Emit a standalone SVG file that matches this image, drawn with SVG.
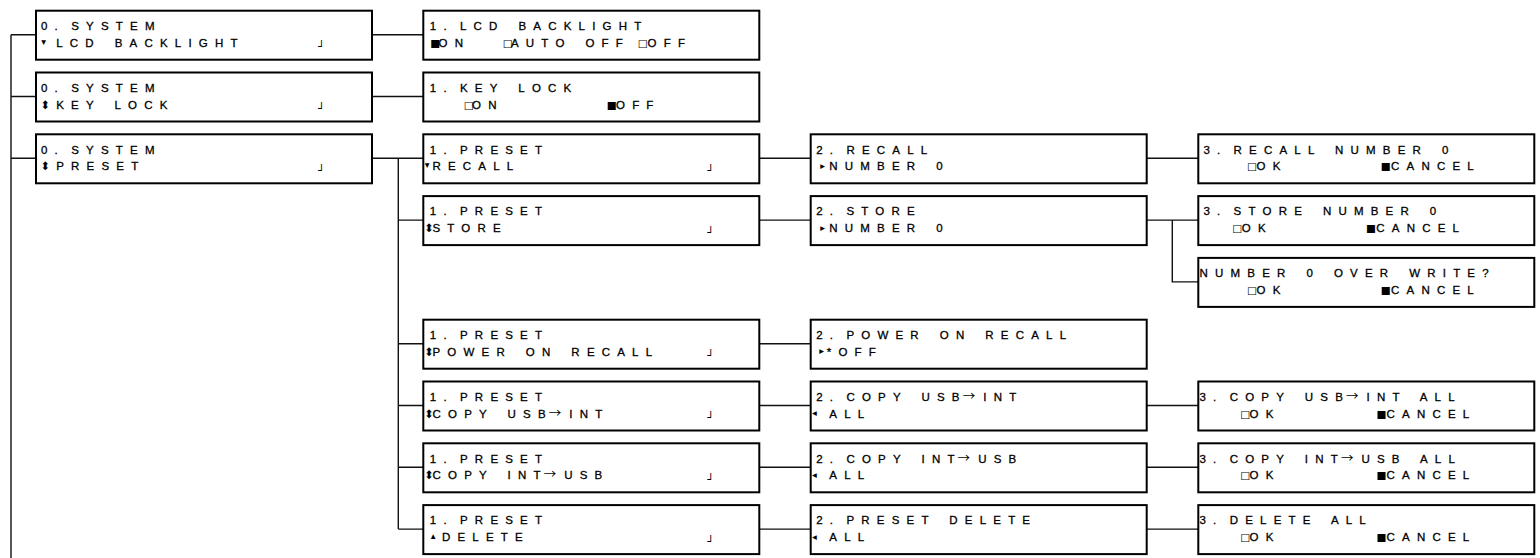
<svg xmlns="http://www.w3.org/2000/svg" width="1540" height="558" viewBox="0 0 1540 558">
<style>
.box{fill:#fff;stroke:#000;stroke-width:2}
.t{font-family:"Liberation Sans",Arial,sans-serif;font-size:11.5px;letter-spacing:7.2px;word-spacing:3.5px;fill:#000;stroke:#000;stroke-width:0.3px}
.g{word-spacing:-4.2px}
.k{letter-spacing:3.2px}
.r{font-family:"Noto Sans CJK JP","DejaVu Sans",sans-serif;font-size:12.5px;letter-spacing:8px;stroke-width:0}
.s{font-family:"DejaVu Sans",sans-serif;font-size:10.5px;letter-spacing:0;word-spacing:0;stroke-width:0}
.a{font-family:"DejaVu Sans",sans-serif;font-size:9.5px;letter-spacing:0;word-spacing:0;stroke-width:0}
.u{font-family:"DejaVu Sans",sans-serif;font-size:11.5px;letter-spacing:0;word-spacing:0;stroke-width:0}
.e{font-family:"DejaVu Sans Mono",monospace;font-size:11px;letter-spacing:0;word-spacing:0;stroke-width:0}
#connectors path{stroke:#111;stroke-width:1.4;fill:none}
</style>
<rect width="1540" height="558" fill="#fff"/>
<g id="connectors">
<path d="M11,34.7V558M11,34.7H36M11,96.5H36M11,158.3H36"/>
<path d="M372,34.7H423.3M372,96.5H423.3M372,158.3H423.3"/>
<path d="M398.3,158.3V529.1M398.3,220.1H423.3M398.3,343.7H423.3M398.3,405.5H423.3M398.3,467.3H423.3M398.3,529.1H423.3"/>
<path d="M759,158.3H810.7M759,220.1H810.7M759,343.7H810.7M759,405.5H810.7M759,467.3H810.7M759,529.1H810.7"/>
<path d="M1146,158.3H1198.3M1146,220.1H1198.3M1172.3,220.1V281.9H1198.3M1146,405.5H1198.3M1146,467.3H1198.3M1146,529.1H1198.3"/>
</g>
<g id="sys-lcd" transform="translate(36,10.7)"><rect class="box" width="336" height="49"/>
<text class="t" x="5" y="19.3">0.<tspan class="g"> </tspan>SYSTEM</text>
<text class="t" y="36.2"><tspan class="a" x="5.2" y="34">▾</tspan><tspan x="20.2" y="36.2">LCD BACKLIGHT</tspan><tspan class="e" x="282" y="39.5">┘</tspan></text></g>
<g id="sys-keylock" transform="translate(36,72.5)"><rect class="box" width="336" height="49"/>
<text class="t" x="5" y="19.3">0.<tspan class="g"> </tspan>SYSTEM</text>
<text class="t" y="36.2"><tspan class="u" x="4.5">⬍</tspan><tspan x="20.2">KEY LOCK</tspan><tspan class="e" x="282" y="39.5">┘</tspan></text></g>
<g id="sys-preset" transform="translate(36,134.3)"><rect class="box" width="336" height="49"/>
<text class="t" x="5" y="19.3">0.<tspan class="g"> </tspan>SYSTEM</text>
<text class="t" y="36.2"><tspan class="u" x="4.5">⬍</tspan><tspan x="20.2">PRESET</tspan><tspan class="e" x="282" y="39.5">┘</tspan></text></g>
<g id="lcd-backlight" transform="translate(423.3,10.7)"><rect class="box" width="336" height="49"/>
<text class="t" x="6.5" y="19.3">1.<tspan class="g"> </tspan>LCD BACKLIGHT</text>
<text class="t" y="36.2"><tspan class="s" x="7">■</tspan><tspan x="15.3">ON</tspan> <tspan class="s" x="79.5">□</tspan><tspan x="87.7">AUTO OFF</tspan> <tspan class="s" x="214.5">□</tspan><tspan x="224.3">OFF</tspan></text></g>
<g id="key-lock" transform="translate(423.3,72.5)"><rect class="box" width="336" height="49"/>
<text class="t" x="6.5" y="19.3">1.<tspan class="g"> </tspan>KEY LOCK</text>
<text class="t" y="36.2"><tspan class="s" x="40.5">□</tspan><tspan x="48.7">ON</tspan> <tspan class="s" x="183.5">■</tspan><tspan x="192.7">OFF</tspan></text></g>
<g id="preset-recall" transform="translate(423.3,134.3)"><rect class="box" width="336" height="49"/>
<text class="t" x="6.5" y="19.3">1.<tspan class="g"> </tspan>PRESET</text>
<text class="t" y="36.2"><tspan class="a" x="1.5" y="34">▾</tspan><tspan x="9.2" y="36.2">RECALL</tspan><tspan class="e" x="284" y="39.5">┘</tspan></text></g>
<g id="preset-store" transform="translate(423.3,196.1)"><rect class="box" width="336" height="49"/>
<text class="t" x="6.5" y="19.3">1.<tspan class="g"> </tspan>PRESET</text>
<text class="t" y="36.2"><tspan class="u" x="1">⬍</tspan><tspan x="9.2">STORE</tspan><tspan class="e" x="284" y="39.5">┘</tspan></text></g>
<g id="preset-poweron" transform="translate(423.3,319.7)"><rect class="box" width="336" height="49"/>
<text class="t" x="6.5" y="19.3">1.<tspan class="g"> </tspan>PRESET</text>
<text class="t" y="36.2"><tspan class="u" x="1">⬍</tspan><tspan x="9.2">POWER ON RECALL</tspan><tspan class="e" x="284" y="39.5">┘</tspan></text></g>
<g id="preset-copy-usb-int" transform="translate(423.3,381.5)"><rect class="box" width="336" height="49"/>
<text class="t" x="6.5" y="19.3">1.<tspan class="g"> </tspan>PRESET</text>
<text class="t" y="36.2"><tspan class="u" x="1">⬍</tspan><tspan x="9.2">COPY US</tspan><tspan class="k">B</tspan><tspan class="r">→</tspan>INT<tspan class="e" x="284" y="39.5">┘</tspan></text></g>
<g id="preset-copy-int-usb" transform="translate(423.3,443.3)"><rect class="box" width="336" height="49"/>
<text class="t" x="6.5" y="19.3">1.<tspan class="g"> </tspan>PRESET</text>
<text class="t" y="36.2"><tspan class="u" x="1">⬍</tspan><tspan x="9.2">COPY IN</tspan><tspan class="k">T</tspan><tspan class="r">→</tspan>USB<tspan class="e" x="284" y="39.5">┘</tspan></text></g>
<g id="preset-delete" transform="translate(423.3,505.1)"><rect class="box" width="336" height="49"/>
<text class="t" x="6.5" y="19.3">1.<tspan class="g"> </tspan>PRESET</text>
<text class="t" y="36.2"><tspan class="a" x="7.5" y="34">▴</tspan><tspan x="18.7" y="36.2">DELETE</tspan><tspan class="e" x="284" y="39.5">┘</tspan></text></g>
<g id="recall" transform="translate(810.7,134.3)"><rect class="box" width="336" height="49"/>
<text class="t" x="5.5" y="19.3">2.<tspan class="g"> </tspan>RECALL</text>
<text class="t" y="36.2"><tspan class="a" x="9.5" y="34.5">▸</tspan><tspan x="18.6" y="36.2">NUMBER 0</tspan></text></g>
<g id="store" transform="translate(810.7,196.1)"><rect class="box" width="336" height="49"/>
<text class="t" x="5.5" y="19.3">2.<tspan class="g"> </tspan>STORE</text>
<text class="t" y="36.2"><tspan class="a" x="9.5" y="34.5">▸</tspan><tspan x="18.6" y="36.2">NUMBER 0</tspan></text></g>
<g id="power-on-recall" transform="translate(810.7,319.7)"><rect class="box" width="336" height="49"/>
<text class="t" x="5.5" y="19.3">2.<tspan class="g"> </tspan>POWER ON RECALL</text>
<text class="t" y="36.2"><tspan class="a" x="8.5" y="34.5">▸</tspan><tspan x="16" y="36.2">*OFF</tspan></text></g>
<g id="copy-usb-int" transform="translate(810.7,381.5)"><rect class="box" width="336" height="49"/>
<text class="t" x="5.5" y="19.3">2.<tspan class="g"> </tspan>COPY US<tspan class="k">B</tspan><tspan class="r">→</tspan>INT</text>
<text class="t" y="36.2"><tspan class="a" x="1.2" y="34.5">◂ </tspan><tspan x="18.6" y="36.2">ALL</tspan></text></g>
<g id="copy-int-usb" transform="translate(810.7,443.3)"><rect class="box" width="336" height="49"/>
<text class="t" x="5.5" y="19.3">2.<tspan class="g"> </tspan>COPY IN<tspan class="k">T</tspan><tspan class="r">→</tspan>USB</text>
<text class="t" y="36.2"><tspan class="a" x="1.2" y="34.5">◂ </tspan><tspan x="18.6" y="36.2">ALL</tspan></text></g>
<g id="preset-delete-2" transform="translate(810.7,505.1)"><rect class="box" width="336" height="49"/>
<text class="t" x="5.5" y="19.3">2.<tspan class="g"> </tspan>PRESET DELETE</text>
<text class="t" y="36.2"><tspan class="a" x="1.2" y="34.5">◂ </tspan><tspan x="18.6" y="36.2">ALL</tspan></text></g>
<g id="recall-confirm" transform="translate(1198.3,134.3)"><rect class="box" width="336" height="49"/>
<text class="t" x="5.1" y="19.3">3.<tspan class="g"> </tspan>RECALL NUMBER 0</text>
<text class="t" y="36.2"><tspan class="s" x="48.8">□</tspan><tspan x="58.3">OK</tspan> <tspan class="s" x="182.5">■</tspan><tspan x="192.8">CANCEL</tspan></text></g>
<g id="store-confirm" transform="translate(1198.3,196.1)"><rect class="box" width="336" height="49"/>
<text class="t" x="5.1" y="19.3">3.<tspan class="g"> </tspan>STORE NUMBER 0</text>
<text class="t" y="36.2"><tspan class="s" x="34">□</tspan><tspan x="43.5">OK</tspan> <tspan class="s" x="167.8">■</tspan><tspan x="178">CANCEL</tspan></text></g>
<g id="overwrite-confirm" transform="translate(1198.3,257.9)"><rect class="box" width="336" height="49"/>
<text class="t" x="1.2" y="19.3">NUMBER 0 OVER WRITE?</text>
<text class="t" y="36.2"><tspan class="s" x="48.8">□</tspan><tspan x="58.3">OK</tspan> <tspan class="s" x="182.5">■</tspan><tspan x="192.8">CANCEL</tspan></text></g>
<g id="copy-usb-int-confirm" transform="translate(1198.3,381.5)"><rect class="box" width="336" height="49"/>
<text class="t" x="1.2" y="19.3">3.<tspan class="g"> </tspan>COPY US<tspan class="k">B</tspan><tspan class="r">→</tspan>INT ALL</text>
<text class="t" y="36.2"><tspan class="s" x="41.9">□</tspan><tspan x="51.3">OK</tspan> <tspan class="s" x="178.2">■</tspan><tspan x="188.3">CANCEL</tspan></text></g>
<g id="copy-int-usb-confirm" transform="translate(1198.3,443.3)"><rect class="box" width="336" height="49"/>
<text class="t" x="1.2" y="19.3">3.<tspan class="g"> </tspan>COPY IN<tspan class="k">T</tspan><tspan class="r">→</tspan>USB ALL</text>
<text class="t" y="36.2"><tspan class="s" x="41.9">□</tspan><tspan x="51.3">OK</tspan> <tspan class="s" x="178.2">■</tspan><tspan x="188.3">CANCEL</tspan></text></g>
<g id="delete-confirm" transform="translate(1198.3,505.1)"><rect class="box" width="336" height="49"/>
<text class="t" x="1.2" y="19.3">3.<tspan class="g"> </tspan>DELETE ALL</text>
<text class="t" y="36.2"><tspan class="s" x="41.9">□</tspan><tspan x="51.3">OK</tspan> <tspan class="s" x="178.2">■</tspan><tspan x="188.3">CANCEL</tspan></text></g>
</svg>
